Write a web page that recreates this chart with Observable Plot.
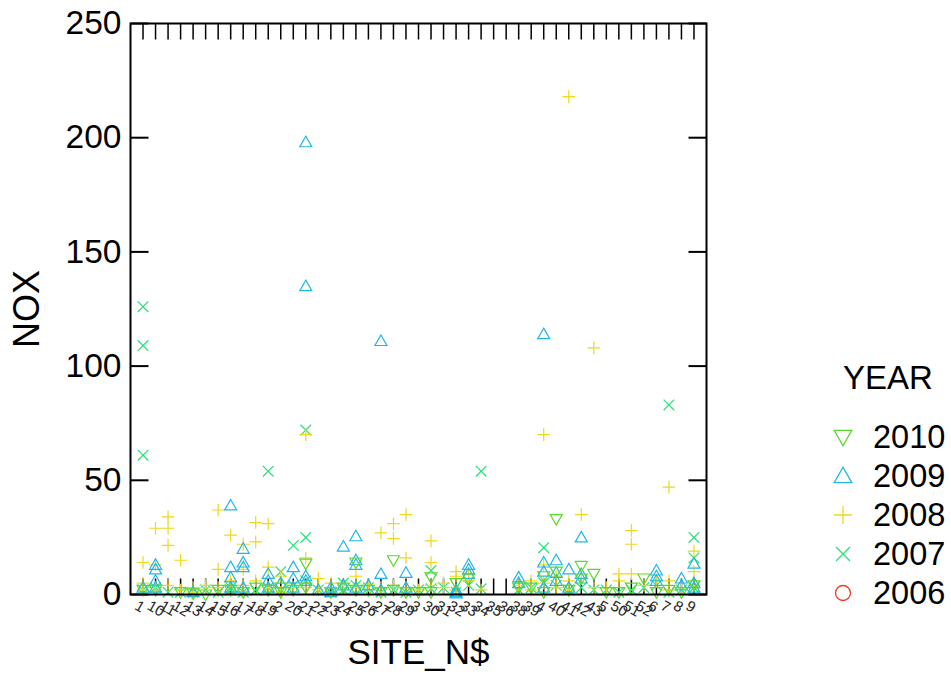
<!DOCTYPE html>
<html><head><meta charset="utf-8">
<script src="https://cdn.jsdelivr.net/npm/d3@7"></script>
<script src="https://cdn.jsdelivr.net/npm/@observablehq/plot@0.6"></script>
<style>
body{margin:0;background:#fff;font-family:"Liberation Sans",Arial,sans-serif}
#wrap{position:relative;width:951px;height:682px}
#legend{position:absolute;left:0;top:0;pointer-events:none}
</style></head><body><div id="wrap"></div>
<script>
const sites = ["1","10","11","12","13","14","15","16","17","18","19","2","20","21","22","23","24","25","26","27","28","29","3","30","31","32","33","34","35","36","38","39","4","40","41","42","43","5","50","51","52","6","7","8","9"];
const yTicks = [0,50,100,150,200,250];
const years = ["2010","2009","2008","2007","2006"];
const colors = ["#5cd82c","#22b5e6","#eed81e","#26e07a","#ee3b22"];

const d2010 = [["1",2],["10",2],["12",1],["13",0.5],["14",0],["15",2],["16",2],["17",1],["18",3],["19",2],["2",3],["2",1],["20",2],["21",13.5],["21",3],["23",1],["24",3],["25",14],["25",2],["26",2],["27",1],["28",15],["28",2],["29",1],["3",1],["30",7.5],["30",1],["32",5],["33",7],["38",3],["39",3],["4",8],["4",1],["40",33],["40",10],["41",2],["42",12.5],["42",7],["43",9],["5",1],["50",1],["51",3],["52",7],["6",1],["7",2],["8",1],["9",4]];
const d2009 = [["1",3],["10",13],["10",11],["10",6],["10",3],["13",1],["16",39],["16",12],["16",7.5],["16",3],["17",20],["17",14],["17",12],["17",3],["19",9],["19",6],["19",3],["2",5],["20",12],["20",7],["20",3],["21",198],["21",135],["21",8],["21",6],["22",2],["23",3],["23",1],["24",21],["24",4],["25",25.5],["25",15],["25",13],["25",3],["26",4],["27",111],["27",9],["27",2],["29",9.5],["29",3],["32",2],["32",1],["32",0.5],["33",13],["33",11],["33",9],["38",7.5],["38",5],["4",114],["4",14],["4",10],["4",3],["40",15],["40",9.5],["40",6],["41",11],["41",3],["42",25],["42",9],["42",7],["6",10.5],["6",8],["6",6],["8",7],["8",4],["9",13.5],["9",5],["9",3]];
const d2008 = [["1",14],["1",5],["1",2],["10",29],["10",13],["10",3],["11",34],["11",29],["11",21.5],["11",4],["12",15],["12",2],["13",1],["13",3],["14",3],["14",4],["15",37],["15",11],["15",3],["16",26],["16",6],["17",22],["17",11],["17",4],["18",31.5],["18",23],["18",6],["19",31],["19",12],["19",3],["2",8],["2",1],["20",3],["21",70],["21",16],["21",3],["22",7],["22",2],["23",5],["24",4],["25",8],["25",3],["26",4],["27",27],["27",3],["28",31],["28",24.5],["28",4],["29",35],["29",16],["29",3],["3",2],["30",23.5],["30",14],["30",4],["31",5],["31",3],["32",10],["32",8],["32",2],["33",9],["33",6],["34",2],["38",4],["39",6],["39",2],["4",70],["4",13],["4",5],["40",8],["40",3],["41",218],["41",6],["41",2],["42",35],["42",7],["43",108],["43",3],["5",3],["50",9],["50",6],["51",28],["51",22],["51",9],["52",4],["6",6],["7",47],["7",6],["7",2],["8",3],["9",19],["9",10],["9",4]];
const d2007 = [["1",126],["1",109],["1",61],["1",2],["10",3],["11",1],["12",1],["13",1],["14",2],["15",1],["16",3],["16",2],["17",1],["18",2],["19",54],["19",3],["2",10],["2",2],["20",21.5],["20",4],["21",72],["21",25],["21",6],["22",2],["23",1],["24",5],["24",2],["25",4],["26",3],["27",1],["28",2],["29",1],["3",2],["30",10.5],["30",2.5],["31",3],["32",1],["33",4],["34",54],["34",2.5],["38",2],["39",3],["4",20.5],["4",5],["40",4],["41",2],["42",3],["43",2],["5",2],["50",1],["51",2],["52",3],["6",4],["7",83],["7",1],["8",2],["9",25],["9",16],["9",3]];
const d2006 = [];

// symbol shapes
const symPlus = {draw(c,s){const r=Math.sqrt(s/Math.PI);c.moveTo(-r,0);c.lineTo(r,0);c.moveTo(0,-r);c.lineTo(0,r);}};
const symTimes = {draw(c,s){const r=Math.sqrt(s/Math.PI)*0.7071;c.moveTo(-r,-r);c.lineTo(r,r);c.moveTo(-r,r);c.lineTo(r,-r);}};
const symUp = {draw(c,s){const r=Math.sqrt(s/Math.PI);c.moveTo(0,-r);c.lineTo(r,r*0.75);c.lineTo(-r,r*0.75);c.closePath();}};
const symDown = {draw(c,s){const r=Math.sqrt(s/Math.PI);c.moveTo(0,r);c.lineTo(r,-r*0.75);c.lineTo(-r,-r*0.75);c.closePath();}};
const symCircle = {draw(c,s){const r=Math.sqrt(s/Math.PI);c.moveTo(r,0);c.arc(0,0,r,0,2*Math.PI);}};
const tickUp = {draw(c){c.moveTo(0,0);c.lineTo(0,-16);}};
const tickDown = {draw(c){c.moveTo(0,0);c.lineTo(0,16);}};
const tickRight = {draw(c){c.moveTo(0,0);c.lineTo(18,0);}};
const tickLeft = {draw(c){c.moveTo(0,0);c.lineTo(-18,0);}};

const series = [
  {data:d2006, sym:symCircle, r:6, color:colors[4]},
  {data:d2007, sym:symTimes, r:7.5, color:colors[3]},
  {data:d2008, sym:symPlus, r:6.3, color:colors[2]},
  {data:d2009, sym:symUp, r:6, color:colors[1]},
  {data:d2010, sym:symDown, r:6, color:colors[0]}
];

const FONT = '"Liberation Sans", Arial, sans-serif';
const plot = Plot.plot({
  width: 951, height: 682,
  marginLeft: 130, marginRight: 245, marginTop: 23, marginBottom: 88,
  style: {fontFamily: FONT, fontSize: "30px", color: "#000", background: "#fff"},
  x: {type: "point", domain: sites, padding: 1, round: false, axis: null},
  y: {domain: [0, 250], axis: null},
  marks: [
    Plot.dot(sites, {x: d => d, frameAnchor: "bottom", symbol: tickUp, stroke: "#000", strokeWidth: 1.5}),
    Plot.dot(sites, {x: d => d, frameAnchor: "top", symbol: tickDown, stroke: "#000", strokeWidth: 1.5}),
    Plot.dot(yTicks, {y: d => d, frameAnchor: "left", symbol: tickRight, stroke: "#000", strokeWidth: 2}),
    Plot.dot(yTicks, {y: d => d, frameAnchor: "right", symbol: tickLeft, stroke: "#000", strokeWidth: 2}),
    ...series.map(s => Plot.dot(s.data, {x: d => d[0], y: d => d[1], symbol: s.sym, r: s.r, fill: "none", stroke: s.color, strokeWidth: 1.2})),
    Plot.frame({stroke: "#000", strokeWidth: 2}),
    Plot.text(yTicks, {y: d => d, frameAnchor: "left", text: d => String(d), textAnchor: "end", dx: -9, fontSize: 33.5, fill: "#000"}),
    Plot.text(sites, {x: d => d, frameAnchor: "bottom", text: d => d, rotate: 30, textAnchor: "start", lineAnchor: "top", dx: -4, dy: 5, fontSize: 15, fill: "#222"}),
    Plot.text(["NOX"], {frameAnchor: "left", text: d => d, rotate: -90, textAnchor: "middle", dx: -103, fontSize: 36, fill: "#000"}),
    Plot.text(["SITE_N$"], {frameAnchor: "bottom", text: d => d, textAnchor: "middle", dy: 69, fontSize: 35, fill: "#000"})
  ]
});
const wrap = document.getElementById("wrap");
wrap.appendChild(plot);

// legend
const svg = d3.select(wrap).append("svg").attr("id","legend").attr("width",951).attr("height",682);
svg.append("text").attr("x",888).attr("y",377).attr("text-anchor","middle").attr("dominant-baseline","central")
  .style("font-size","33px").style("font-family",FONT).text("YEAR");
const legSyms = [symDown, symUp, symPlus, symTimes, symCircle];
const legR = [8.8, 8.8, 9, 9.9, 7.5];
years.forEach((yr, i) => {
  const cy = 437 + i * 39;
  svg.append("path").attr("transform", `translate(843,${cy})`)
    .attr("d", d3.symbol(legSyms[i], legR[i] * legR[i] * Math.PI)())
    .attr("fill","none").attr("stroke", colors[i]).attr("stroke-width",1.3);
  svg.append("text").attr("x",873).attr("y",cy).attr("dominant-baseline","central")
    .style("font-size","32.5px").style("font-family",FONT).text(yr);
});
</script></body></html>
